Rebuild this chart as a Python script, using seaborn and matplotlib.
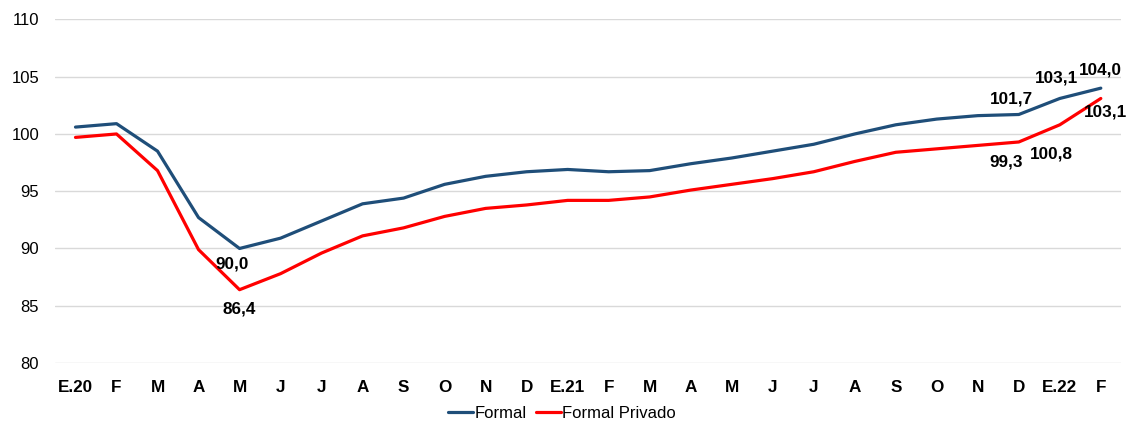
import matplotlib
matplotlib.use("Agg")
import matplotlib.pyplot as plt
import seaborn as sns
import pandas as pd

# Monthly index values
months = ["E.20", "F", "M", "A", "M", "J", "J", "A", "S", "O", "N", "D",
          "E.21", "F", "M", "A", "M", "J", "J", "A", "S", "O", "N", "D",
          "E.22", "F"]
formal = [100.6, 100.9, 98.5, 92.7, 90.0, 90.9, 92.4, 93.9, 94.4, 95.6, 96.3, 96.7,
          96.9, 96.7, 96.8, 97.4, 97.9, 98.5, 99.1, 100.0, 100.8, 101.3, 101.6, 101.7,
          103.1, 104.0]
formal_privado = [99.7, 100.0, 96.8, 89.9, 86.4, 87.8, 89.6, 91.1, 91.8, 92.8, 93.5, 93.8,
                  94.2, 94.2, 94.5, 95.1, 95.6, 96.1, 96.7, 97.6, 98.4, 98.7, 99.0, 99.3,
                  100.8, 103.1]

df = pd.DataFrame({
    "pos": list(range(len(months))) * 2,
    "valor": formal + formal_privado,
    "serie": ["Formal"] * len(months) + ["Formal Privado"] * len(months),
})

sns.set_style("white")
plt.rcParams["font.family"] = ["Liberation Sans", "DejaVu Sans"]
plt.rcParams["text.color"] = "black"
plt.rcParams["xtick.color"] = "black"
plt.rcParams["ytick.color"] = "black"

fig = plt.figure(figsize=(11.29, 4.21), dpi=100)
ax = fig.add_axes([0.0487, 0.1378, 0.9445, 0.816])

sns.lineplot(data=df, x="pos", y="valor", hue="serie",
             palette={"Formal": "#1F4E79", "Formal Privado": "#FF0000"},
             linewidth=2.3, ax=ax, legend=True)

ax.set_xlim(-0.5, len(months) - 0.5)
ax.set_ylim(80, 110)
ax.set_yticks(range(80, 111, 5))
ax.set_xticks(range(len(months)))
ax.set_xticklabels(months, fontweight="bold", fontsize=12.3)
ax.tick_params(axis="y", labelsize=12, length=0, pad=11.5)
ax.tick_params(axis="x", length=0, pad=12)
ax.grid(axis="y", color="#D9D9D9", linewidth=1)
ax.set_axisbelow(True)
for s in ax.spines.values():
    s.set_visible(False)
ax.set_xlabel("")
ax.set_ylabel("")

# data labels (index, value, pixel offset)
labels = [
    (4, formal[4], (-7, -16)),
    (4, formal_privado[4], (0, -19)),
    (23, formal[23], (-7, 15)),
    (23, formal_privado[23], (-13, -20)),
    (24, formal[24], (-3, 20)),
    (24, formal_privado[24], (-8, -29)),
    (25, formal[25], (0, 18)),
    (25, formal_privado[25], (5, -14)),
]
for i, v, off in labels:
    ax.annotate(f"{v:.1f}".replace(".", ","), (i, v), xytext=off,
                textcoords="offset pixels", ha="center", va="center",
                fontsize=12.3, fontweight="bold", annotation_clip=False)

handles, lbls = ax.get_legend_handles_labels()
ax.legend(handles, lbls, loc="center", bbox_to_anchor=(0.498, 0.018),
          bbox_transform=fig.transFigure, ncol=2, frameon=False,
          fontsize=12, handlelength=1.45, handletextpad=0.1, columnspacing=0.6)

plt.savefig("out.png", dpi=100)
